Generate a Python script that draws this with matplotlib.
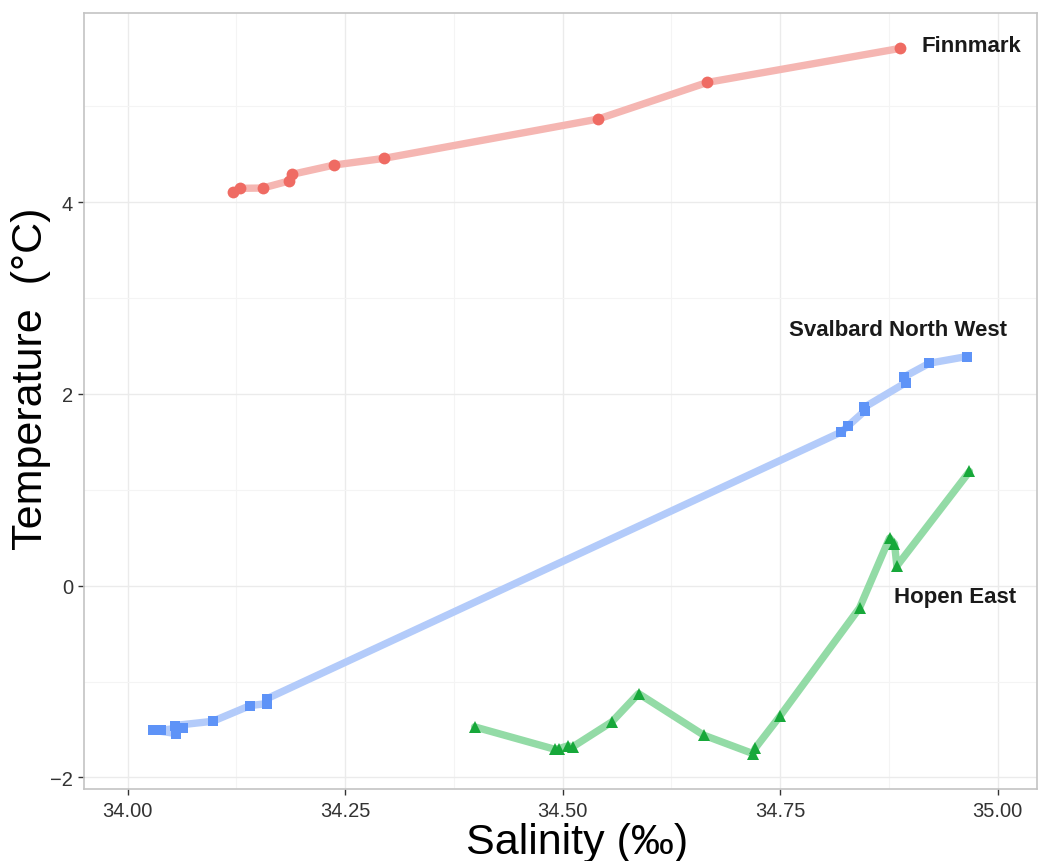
import matplotlib
matplotlib.use("Agg")
import matplotlib.pyplot as plt
from matplotlib.ticker import MultipleLocator

plt.rcParams['font.family'] = ['Liberation Sans', 'DejaVu Sans']

# ---- data (salinity in permille, temperature in deg C) ----
finn_sal = [34.121, 34.1295, 34.1555, 34.1854, 34.1893, 34.2371, 34.2946, 34.5408, 34.6664, 34.8874]
finn_temp = [4.107, 4.143, 4.146, 4.219, 4.289, 4.385, 4.455, 4.865, 5.247, 5.601]

sval_sal = [34.056, 34.029, 34.039, 34.0636, 34.054, 34.098, 34.141, 34.1606, 34.1606,
            34.8203, 34.8279, 34.8479, 34.8471, 34.8943, 34.8920, 34.9218, 34.9647]
sval_temp = [-1.542, -1.507, -1.507, -1.479, -1.458, -1.414, -1.25, -1.229, -1.177,
             1.601, 1.664, 1.826, 1.861, 2.115, 2.174, 2.320, 2.389]

hopen_sal = [34.3989, 34.4908, 34.496, 34.5061, 34.5118, 34.5567, 34.5874, 34.6624,
             34.7187, 34.7218, 34.7502, 34.8414, 34.8759, 34.8816, 34.8843, 34.9678]
hopen_temp = [-1.472, -1.705, -1.698, -1.670, -1.680, -1.420, -1.125, -1.559,
              -1.75, -1.691, -1.357, -0.232, 0.497, 0.4375, 0.205, 1.191]

labels = ["Finnmark", "Svalbard North West", "Hopen East"]
label_sal = [34.913, 34.760, 34.881]
label_temp = [5.636, 2.669, -0.109]

x_ticks = [34.00, 34.25, 34.50, 34.75, 35.00]
y_ticks = [-2, 0, 2, 4]

# ---- figure ----
fig = plt.figure(figsize=(10.39, 8.62), dpi=100)
ax = fig.add_axes([83.5 / 1039, 1 - 790 / 862, (1037 - 83.5) / 1039, (790 - 14) / 862])

series = [
    (finn_sal, finn_temp, '#EF6B63', '#F5B6B2', 'o', 8.5),
    (sval_sal, sval_temp, '#5E93F7', '#B3CBFA', 's', 7.0),
    (hopen_sal, hopen_temp, '#17A83A', '#93DBA6', '^', 8.5),
]
for xs, ys, pc, lc, mk, ms in series:
    ax.plot(xs, ys, color=lc, lw=5.3, solid_capstyle='round', solid_joinstyle='round', zorder=2)
    ax.plot(xs, ys, linestyle='none', marker=mk, color=pc, markersize=ms,
            markeredgewidth=0, zorder=3)

for t, lx, ly in zip(labels, label_sal, label_temp):
    ax.text(lx, ly, t, fontsize=16, fontweight='bold', color='#1A1A1A',
            ha='left', va='center', zorder=4)

ax.set_xlim(33.9494, 35.0454)
ax.set_ylim(-2.12, 5.971)
ax.set_xticks(x_ticks)
ax.set_xticklabels([f"{v:.2f}" for v in x_ticks])
ax.set_yticks(y_ticks)
ax.set_yticklabels([f"{v:d}".replace('-', '\u2212') for v in y_ticks])
ax.xaxis.set_minor_locator(MultipleLocator(0.125))
ax.yaxis.set_minor_locator(MultipleLocator(1))

ax.grid(which='major', color='#EBEBEB', lw=1.0, zorder=0)
ax.grid(which='minor', color='#F4F4F4', lw=0.8, zorder=0)
ax.set_axisbelow(True)

for s in ax.spines.values():
    s.set_color('#C4C4C4')
    s.set_linewidth(1.2)

ax.tick_params(which='major', length=4.5, width=1.0, color='#333333',
               labelsize=14.5, labelcolor='#333333', pad=3)
ax.tick_params(axis='x', which='major', pad=4.5)
ax.tick_params(which='minor', length=0)

ax.set_xlabel("Salinity (\u2030)", fontsize=31, color='black')
ax.set_ylabel("Temperature  (\u00b0C)", fontsize=31, color='black')
# x label anchor: top edge of text; y label anchor: right edge of rotated text
ax.xaxis.set_label_coords((577 - 83.5) / (1037 - 83.5), -(823 - 790) / (790 - 14))
ax.yaxis.set_label_coords(-(83.5 - 51) / (1037 - 83.5), (790 - 379) / (790 - 14))

fig.savefig("out.png", dpi=100)
